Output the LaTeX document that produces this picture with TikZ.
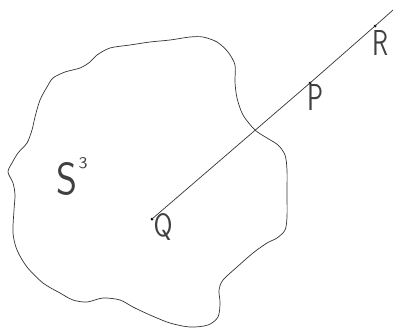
\documentclass[tikz,border=0pt]{standalone}
\usepackage{tikz}
\usetikzlibrary{positioning}
\newcommand{\glyph}[3]{\resizebox{#1pt}{#2pt}{#3}}

\begin{document}
\begin{tikzpicture}[
  x=1pt, y=-1pt,
  line width=0.7pt,
  outline/.style={draw=black!80, line join=round},
  ray/.style={draw=black!80},
  pt/.style={circle, fill=black, inner sep=0pt, minimum size=3pt},
  letter/.style={font=\sffamily, text=black!75, inner sep=0pt},
]
\useasboundingbox (0,0) rectangle (393,330);

% Region
\draw[outline] plot[smooth cycle, tension=0.5] coordinates {
  (150,42) (130,45) (110,48) (97,55) (90,62) (80,68) (65,72) (53,78)
  (47,87) (40,100) (35,117) (32,130) (27,143) (18,153) (12,163) (8,172)
  (13,183) (15,195) (14,210) (13,233) (17,250) (27,267) (43,283)
  (60,293) (73,300) (87,302) (103,298) (120,300) (133,307) (150,315)
  (170,323) (190,327) (208,325) (218,317) (220,303) (219,290) (223,280)
  (237,267) (253,253) (267,243) (277,238) (285,230) (287,217) (287,193)
  (287,170) (285,155) (278,145) (267,138) (255,130) (243,115) (237,98)
  (235,82) (235,65) (228,52) (217,42) (203,37) (190,37) (170,40)
};

% Points on the ray
\node[pt] (Q) at (152,219) {};
\node[pt] (P) at (310,83) {};
\node[pt] (R) at (375,26) {};
\coordinate (end) at (393,10);

\draw[ray] (Q.center) -- (P.center) -- (R.center) -- (end);

% Labels
\node[letter] (labQ) at (163,227) {\glyph{19}{23}{Q}};
\node[letter] (labP) at (315,97) {\glyph{16}{26}{P}};
\node[letter] (labR) at (380,43) {\glyph{16}{25}{R}};
\node[letter] (labS) at (67,179) {\glyph{21}{32}{S}};
\node[letter] (labT) at (83,163) {\glyph{9}{11}{3}};

\end{tikzpicture}
\end{document}
